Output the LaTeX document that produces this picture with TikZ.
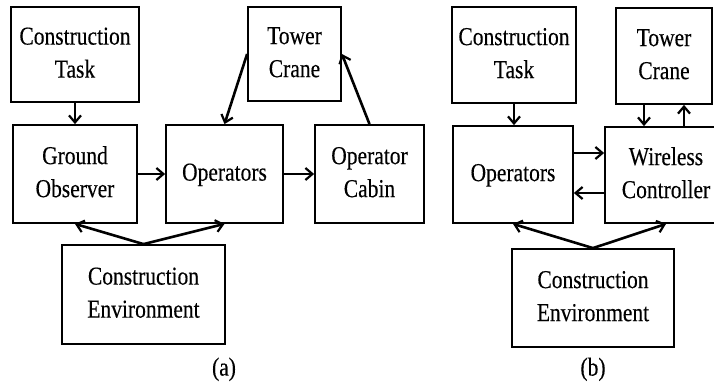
\documentclass[tikz,border=0pt]{standalone}
\usepackage{fontspec}
\setmainfont[FakeBold=0.3]{Liberation Serif}
\usepackage{graphicx}
\usetikzlibrary{arrows.meta}
% two-line box text, set slightly taller than wide
\newcommand{\boxtext}[1]{\scalebox{1}[1.2]{\fontsize{21.5}{27.5}\selectfont\begin{tabular}{@{}c@{}}#1\end{tabular}}}
\tikzset{
  blk/.style={draw, line width=1.8pt, inner sep=0pt, align=center},
  arr/.style={line width=2.6pt, -{Straight Barb[length=7pt,width=12pt,line width=2.2pt]}},
  sublabel/.style={inner sep=0pt}
}
\begin{document}
\begin{tikzpicture}[x=1pt,y=-1pt]
\clip (0,0) rectangle (714,385);
\fill[white] (0,0) rectangle (714,385);

% ---- (a) ----
\node[blk, minimum width=128, minimum height=95] (ctA)  at (75,54.5)    {\boxtext{Construction\\Task}};
\node[blk, minimum width=124, minimum height=98] (goA)  at (75,174)     {\boxtext{Ground\\Observer}};
\node[blk, minimum width=117, minimum height=98] (opA)  at (224.5,174)  {\boxtext{Operators}};
\node[blk, minimum width=93,  minimum height=94] (tcA)  at (294.5,54)   {\boxtext{Tower\\Crane}};
\node[blk, minimum width=109, minimum height=98] (cabA) at (369.5,174)  {\boxtext{Operator\\Cabin}};
\node[blk, minimum width=163, minimum height=99] (ceA)  at (143.5,294.5){\boxtext{Construction\\Environment}};
\node[sublabel] (labA) at (224,369) {\boxtext{(a)}};

\draw[arr] (ctA.south) -- (goA.north);
\draw[arr] (tcA.west) -- (opA.north);
\draw[arr] (cabA.north) -- (tcA.east);
\draw[arr] (goA.east) -- (opA.west);
\draw[arr] (opA.east) -- (cabA.west);
\draw[arr] (ceA.north) -- (goA.south);
\draw[arr] (ceA.north) -- (opA.south);

% ---- (b) ----
\node[blk, minimum width=124, minimum height=96] (ctB) at (514,55)    {\boxtext{Construction\\Task}};
\node[blk, minimum width=96,  minimum height=96] (tcB) at (664,56)    {\boxtext{Tower\\Crane}};
\node[blk, minimum width=120, minimum height=97] (opB) at (513,174.5) {\boxtext{Operators}};
\node[blk, minimum width=122, minimum height=96] (wc)  at (666,175)   {\boxtext{Wireless\\Controller}};
\node[blk, minimum width=162, minimum height=98] (ceB) at (593,298)   {\boxtext{Construction\\Environment}};
\node[sublabel] (labB) at (593,369) {\boxtext{(b)}};

\draw[arr] (ctB.south) -- (ctB.south |- opB.north);
\draw[arr] ([xshift=-20pt]tcB.south) -- ([xshift=-20pt]tcB.south |- wc.north);
\draw[arr] ([xshift=20pt]tcB.south |- wc.north) -- ([xshift=20pt]tcB.south);
\draw[arr] ([yshift=21.5pt]opB.east) -- ([yshift=21.5pt]opB.east -| wc.west);
\draw[arr] ([yshift=-18.5pt]opB.east -| wc.west) -- ([yshift=-18.5pt]opB.east);
\draw[arr] (ceB.north) -- (opB.south);
\draw[arr] (ceB.north) -- (wc.south);
\end{tikzpicture}
\end{document}
